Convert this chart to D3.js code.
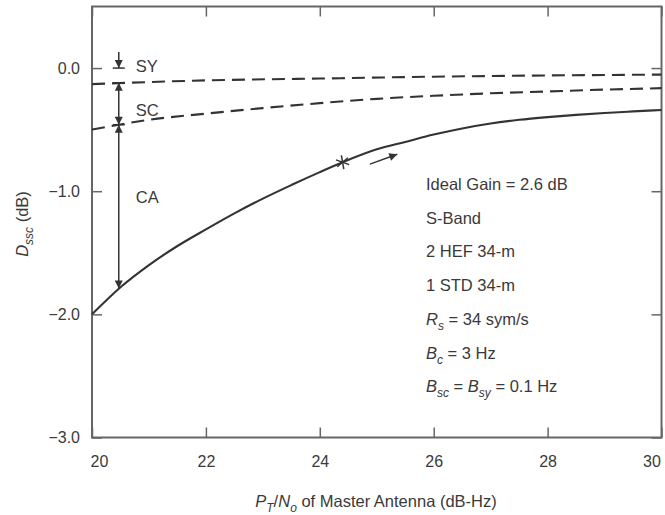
<!DOCTYPE html>
<html>
<head>
<meta charset="utf-8">
<script src="https://cdn.jsdelivr.net/npm/d3@7"></script>
<style>
  html, body { margin: 0; padding: 0; background: #fff; }
  svg text { font-family: "Liberation Sans", Arial, Helvetica, sans-serif; fill: #3a3a3a; }
</style>
</head>
<body>
<svg id="chart" width="665" height="515"></svg>
<script>
// Degradation curves versus master-antenna P_T/N_o (dB-Hz)
const caX  = [20, 20.5, 21, 21.5, 22, 22.5, 23, 23.5, 24, 24.4, 25, 25.5, 26, 26.5, 27, 27.5, 28, 28.5, 29, 29.5, 30];
const caY  = [-2.00, -1.78, -1.60, -1.445, -1.31, -1.18, -1.06, -0.95, -0.845, -0.765, -0.66, -0.60, -0.54, -0.49, -0.45, -0.42, -0.398, -0.38, -0.365, -0.352, -0.34];
const scX  = [20, 21, 22, 23, 24, 25, 26, 27, 28, 29, 30];
const scY  = [-0.50, -0.42, -0.37, -0.325, -0.285, -0.25, -0.225, -0.205, -0.19, -0.175, -0.163];
const syX  = [20, 22, 24, 26, 28, 30];
const syY  = [-0.13, -0.10, -0.085, -0.07, -0.06, -0.053];

// Loss-breakdown indicator: top of SY arrow, zero level, SY, SC, CA levels
const indicatorX = 20.47;
const indicatorLevels = [0.13, 0, -0.12, -0.46, -1.79];
const indicatorNames = ["SY", "SC", "CA"];

// Operating point and direction arrow
const operatingPoint = [24.4, -0.765];
const directionArrow = [[24.88, -0.78], [25.36, -0.70]];

const xTicks = [20, 22, 24, 26, 28, 30];
const yTicks = [-3, -2, -1, 0];

const notes = [
  [["Ideal Gain = 2.6 dB", false]],
  [["S-Band", false]],
  [["2 HEF 34-m", false]],
  [["1 STD 34-m", false]],
  [["R", true], ["s", "sub"], [" = 34 sym/s", false]],
  [["B", true], ["c", "sub"], [" = 3 Hz", false]],
  [["B", true], ["sc", "sub"], [" = ", false], ["B", true], ["sy", "sub"], [" = 0.1 Hz", false]]
];

const svg = d3.select("#chart");
const L = 92, R = 661.5, T = 6.5, B = 437.5;
const x = d3.scaleLinear().domain([20, 30]).range([L, R]);
const y = d3.scaleLinear().domain([-3, 0.5]).range([B, T]);
const ink = "#333";
const frame = "#666";

// Arrowhead marker
const defs = svg.append("defs");
defs.append("marker")
  .attr("id", "head")
  .attr("viewBox", "0 0 10 10")
  .attr("refX", 10).attr("refY", 5)
  .attr("markerUnits", "userSpaceOnUse")
  .attr("markerWidth", 9).attr("markerHeight", 8)
  .attr("orient", "auto-start-reverse")
  .append("path").attr("d", "M0,0 L10,5 L0,10 Z").attr("fill", ink);

// Axes with inward ticks on all four sides
const fmt = d3.format(".1f");
const gl = svg.append("g").attr("transform", `translate(${L},0)`)
  .call(d3.axisLeft(y).tickValues(yTicks).tickFormat(fmt).tickSizeInner(-10).tickSizeOuter(0).tickPadding(12));
const gb = svg.append("g").attr("transform", `translate(0,${B})`)
  .call(d3.axisBottom(x).tickValues(xTicks).tickFormat(d3.format("d")).tickSizeInner(-10).tickSizeOuter(0).tickPadding(18));
const gt = svg.append("g").attr("transform", `translate(0,${T})`)
  .call(d3.axisTop(x).tickValues(xTicks).tickFormat("").tickSizeInner(-10).tickSizeOuter(0));
const gr = svg.append("g").attr("transform", `translate(${R},0)`)
  .call(d3.axisRight(y).tickValues(yTicks).tickFormat("").tickSizeInner(-10).tickSizeOuter(0));
[gl, gb, gt, gr].forEach(g => {
  g.select(".domain").remove();
  g.selectAll(".tick line").attr("stroke", frame).attr("stroke-width", 1.5);
  g.selectAll(".tick text").attr("font-size", 16).attr("fill", "#3a3a3a")
    .style("font-family", '"Liberation Sans", Arial, sans-serif');
});
gb.selectAll(".tick text").attr("dx", d => d === 20 ? 7 : d === 30 ? -10 : 0);

svg.append("rect").attr("x", L).attr("y", T).attr("width", R - L).attr("height", B - T)
  .attr("fill", "none").attr("stroke", frame).attr("stroke-width", 2);

// Curves
const line = d3.line().x(d => x(d[0])).y(d => y(d[1])).curve(d3.curveMonotoneX);
const zip = (a, b) => a.map((v, i) => [v, b[i]]);
svg.append("path").datum(zip(caX, caY)).attr("d", line)
  .attr("fill", "none").attr("stroke", ink).attr("stroke-width", 2.1);
svg.append("path").datum(zip(scX, scY)).attr("d", line)
  .attr("fill", "none").attr("stroke", ink).attr("stroke-width", 2.1).attr("stroke-dasharray", "13,7");
svg.append("path").datum(zip(syX, syY)).attr("d", line)
  .attr("fill", "none").attr("stroke", ink).attr("stroke-width", 2.1).attr("stroke-dasharray", "13,7");

// Indicator arrows and level bars
const ix = x(indicatorX);
const lv = indicatorLevels.map(y);
const seg = (y1, y2, start, end) => {
  const p = svg.append("line").attr("x1", ix).attr("x2", ix).attr("y1", y1).attr("y2", y2)
    .attr("stroke", ink).attr("stroke-width", 1.5);
  if (start) p.attr("marker-start", "url(#head)");
  if (end) p.attr("marker-end", "url(#head)");
};
seg(lv[0], lv[1], false, true);
seg(lv[2], lv[3], true, true);
seg(lv[3], lv[4], true, true);
[lv[1], lv[2], lv[3]].forEach(v => {
  svg.append("line").attr("x1", ix - 6).attr("x2", ix + 6).attr("y1", v).attr("y2", v)
    .attr("stroke", ink).attr("stroke-width", 1.5);
});
const labelYs = [(lv[1] + lv[2]) / 2 - 9, (lv[2] + lv[3]) / 2 + 6, 197];
indicatorNames.forEach((n, i) => {
  svg.append("text").attr("x", ix + 17).attr("y", labelYs[i]).attr("dy", "0.35em")
    .attr("font-size", 16.5).text(n);
});

// Operating point (asterisk)
const ox = x(operatingPoint[0]), oy = y(operatingPoint[1]);
[80, 20, 140].forEach(a => {
  const r = 7, t = a * Math.PI / 180;
  svg.append("line")
    .attr("x1", ox - r * Math.cos(t)).attr("y1", oy - r * Math.sin(t))
    .attr("x2", ox + r * Math.cos(t)).attr("y2", oy + r * Math.sin(t))
    .attr("stroke", ink).attr("stroke-width", 1.5);
});
svg.append("line")
  .attr("x1", x(directionArrow[0][0])).attr("y1", y(directionArrow[0][1]))
  .attr("x2", x(directionArrow[1][0])).attr("y2", y(directionArrow[1][1]))
  .attr("stroke", ink).attr("stroke-width", 1.5).attr("marker-end", "url(#head)");

// Parameter notes, with italic symbols and subscripts
notes.forEach((parts, i) => {
  const t = svg.append("text").attr("x", 426).attr("y", 190 + i * 33.7).attr("font-size", 16.5);
  let lowered = false;
  parts.forEach(([s, style]) => {
    const sp = t.append("tspan").text(s);
    if (style === true) sp.attr("font-style", "italic");
    if (style === "sub") {
      sp.attr("font-style", "italic").attr("font-size", 12).attr("dy", 5);
      lowered = true;
    } else if (lowered) {
      sp.attr("dy", -5);
      lowered = false;
    }
  });
});

// Axis titles
const xt = svg.append("text").attr("x", 376).attr("y", 507).attr("text-anchor", "middle").attr("font-size", 16.5);
xt.append("tspan").attr("font-style", "italic").text("P");
xt.append("tspan").attr("font-style", "italic").attr("font-size", 12).attr("dy", 5).text("T");
xt.append("tspan").attr("dy", -5).text("/");
xt.append("tspan").attr("font-style", "italic").text("N");
xt.append("tspan").attr("font-style", "italic").attr("font-size", 12).attr("dy", 5).text("o");
xt.append("tspan").attr("dy", -5).text(" of Master Antenna (dB-Hz)");

const yt = svg.append("text").attr("transform", "translate(28,224) rotate(-90)")
  .attr("text-anchor", "middle").attr("font-size", 16.5);
yt.append("tspan").attr("font-style", "italic").text("D");
yt.append("tspan").attr("font-style", "italic").attr("font-size", 12).attr("dy", 5).text("ssc");
yt.append("tspan").attr("dy", -5).text(" (dB)");
</script>
</body>
</html>
